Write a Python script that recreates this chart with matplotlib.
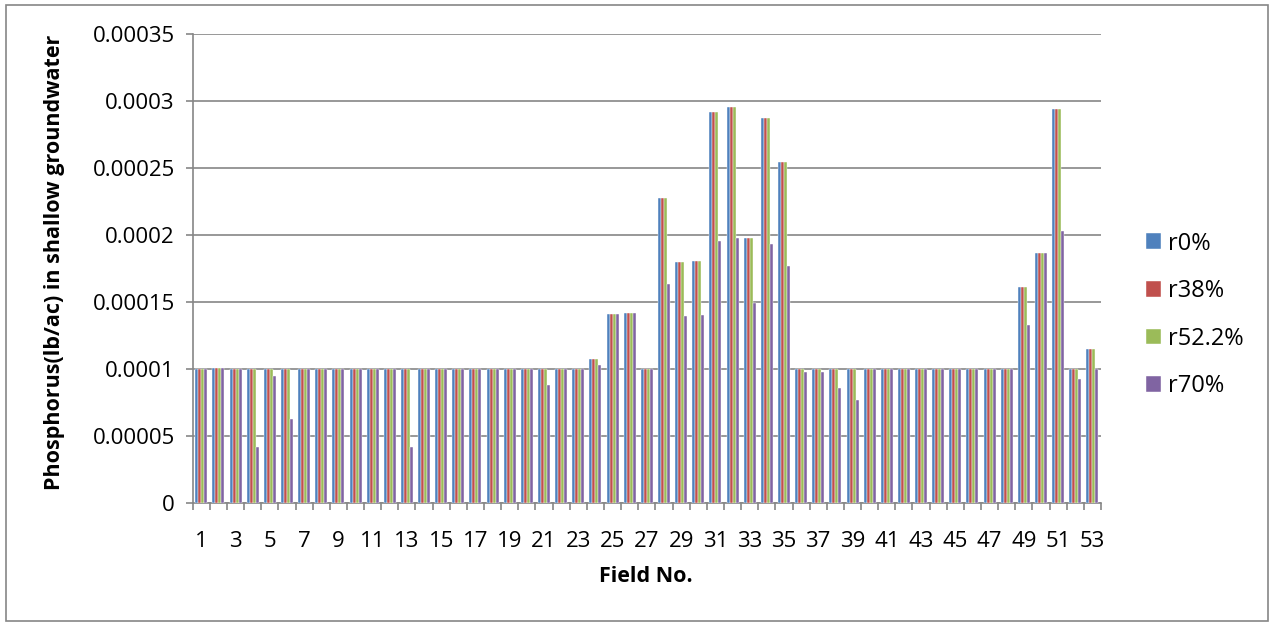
import matplotlib
matplotlib.use("Agg")
import matplotlib.pyplot as plt
import numpy as np
from matplotlib.patches import Rectangle
from matplotlib.ticker import FixedLocator, FixedFormatter

plt.rcParams["font.family"] = ["Open Sans", "DejaVu Sans"]

# field numbers 1..53
fields = list(range(1, 54))
series_names = ["r0%", "r38%", "r52.2%", "r70%"]
colors = ["#4F81BD", "#C0504D", "#9BBB59", "#8064A2"]

# phosphorus load per field (lb/ac); base value is 0.0001 for most fields
r0 = [0.0001, 0.0001012, 0.0001, 0.0001, 0.0001, 0.0001, 0.0001, 0.0001, 0.0001, 0.0001,
      0.0001, 0.0001, 0.0001, 0.0001, 0.0001, 0.0001, 0.0001, 0.0001, 0.0001, 0.0001,
      0.0001, 0.0001, 0.0001, 0.000108, 0.0001415, 0.0001423, 0.0001, 0.0002276, 0.0001798, 0.0001808,
      0.0002918, 0.000296, 0.0001983, 0.0002873, 0.0002545, 0.0001, 0.0001, 0.0001, 0.0001, 0.0001,
      0.0001, 0.0001, 0.0001, 0.0001, 0.0001, 0.0001, 0.0001, 0.0001, 0.0001614, 0.0001866,
      0.0002945, 0.0001, 0.0001149]
r38 = list(r0)
r52 = list(r0)
r70 = [0.0001, 0.0001012, 0.0001, 0.0000418, 0.000095, 0.0000631, 0.0001, 0.0001, 0.0001, 0.0001,
       0.0001, 0.0001, 0.0000421, 0.0001, 0.0001, 0.0001, 0.0001, 0.0001, 0.0001, 0.0001,
       0.0000884, 0.0001, 0.0001, 0.000103, 0.0001415, 0.0001423, 0.0001, 0.0001637, 0.0001398, 0.0001403,
       0.0001955, 0.0001978, 0.0001493, 0.0001935, 0.0001771, 0.0000983, 0.0000983, 0.0000861, 0.0000771, 0.0001,
       0.0001, 0.0001, 0.0001, 0.0001, 0.0001, 0.0001, 0.0001, 0.0001, 0.0001333, 0.0001866,
       0.000203, 0.0000928, 0.0001]

y_ticks = [0, 0.00005, 0.0001, 0.00015, 0.0002, 0.00025, 0.0003, 0.00035]
y_tick_labels = ["0", "0.00005", "0.0001", "0.00015", "0.0002", "0.00025", "0.0003", "0.00035"]

W, H = 1271, 626
fig = plt.figure(figsize=(W / 100, H / 100), dpi=100)
ax = fig.add_axes([192.7 / W, 1 - 503.3 / H, (1101 - 192.7) / W, (503.3 - 34.3) / H])

x = np.arange(len(fields))
bw = 0.175
for i, (vals, name, c) in enumerate(zip([r0, r38, r52, r70], series_names, colors)):
    ax.bar(x + (i - 1.5) * bw, vals, width=bw, color=c, label=name,
           edgecolor="#ffffff", linewidth=0.3, zorder=3)

grey = "#868686"
ax.set_xlim(-0.5, len(fields) - 0.5)
ax.set_ylim(0, 0.00035)
ax.yaxis.set_major_locator(FixedLocator(y_ticks))
ax.yaxis.set_major_formatter(FixedFormatter(y_tick_labels))
ax.grid(axis="y", color=grey, linewidth=1.2, zorder=0)

# category labels on every second field, tick marks between categories
ax.set_xticks(x[::2])
ax.set_xticklabels([str(f) for f in fields[::2]])
ax.set_xticks(np.arange(-0.5, len(fields), 1), minor=True)
ax.tick_params(axis="x", which="major", length=0, pad=20, labelsize=16)
ax.tick_params(axis="x", which="minor", length=5, color=grey, width=1.2)
ax.tick_params(axis="y", length=5, color=grey, width=1.2, pad=8, labelsize=16)

for side in ["top", "right"]:
    ax.spines[side].set_visible(False)
for side in ["left", "bottom"]:
    ax.spines[side].set_color(grey)
    ax.spines[side].set_linewidth(1.2)

fig.text(55 / W, 1 - 262 / H, "Phosphorus(lb/ac) in shallow groundwater", rotation=90,
         ha="center", va="center", fontsize=15.5, fontweight="bold")
fig.text(646 / W, 1 - 577 / H, "Field No.", ha="center", va="center",
         fontsize=15.5, fontweight="bold")

ax.legend(loc="center left", bbox_to_anchor=(1146 / W, 1 - 315 / H), bbox_transform=fig.transFigure,
          frameon=False, fontsize=17, handlelength=0.64, handleheight=0.64, handletextpad=0.3,
          labelspacing=1.0, borderpad=0, borderaxespad=0)

# chart area border
fig.patches.append(Rectangle((6 / W, 5 / H), (1268 - 6) / W, (621 - 5) / H, transform=fig.transFigure,
                             fill=False, edgecolor=grey, linewidth=1.2))

fig.savefig("out.png", dpi=100)
